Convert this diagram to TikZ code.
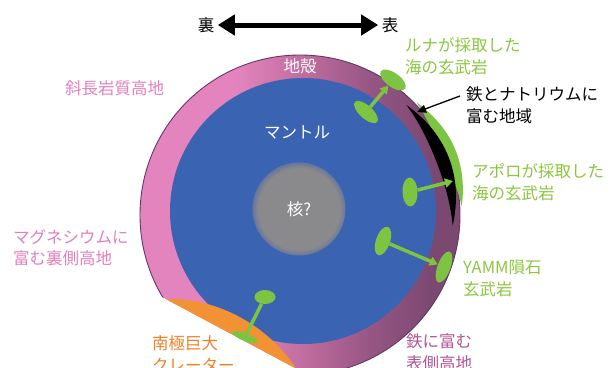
\documentclass[tikz,border=0pt]{standalone}
\usepackage{fontspec}
\setmainfont{Noto Sans CJK JP}
\usetikzlibrary{arrows.meta,shapes.geometric}

\definecolor{mantleblue}{RGB}{58,100,178}
\definecolor{coregray}{RGB}{138,138,140}
\definecolor{coreedge}{RGB}{104,118,158}
\definecolor{crustpink}{RGB}{228,132,190}
\definecolor{crustmauve}{RGB}{194,110,160}
\definecolor{crustplum}{RGB}{150,86,132}
\definecolor{crustpurple}{RGB}{122,72,112}
\definecolor{crustline}{RGB}{100,55,100}
\definecolor{basaltgreen}{RGB}{125,196,66}
\definecolor{textgreen}{RGB}{140,198,63}
\definecolor{textpink}{RGB}{226,128,186}
\definecolor{textpurple}{RGB}{176,86,146}
\definecolor{craterorange}{RGB}{243,146,50}
\definecolor{textorange}{RGB}{240,128,40}

% crust: pink on the far side, purple on the near side
\pgfdeclarehorizontalshading{crustshade}{100bp}{color(0bp)=(crustpink); color(40bp)=(crustpink); color(50bp)=(crustmauve); color(61bp)=(crustplum); color(71bp)=(crustpurple); color(100bp)=(crustpurple)}
% core with a soft rim
\pgfdeclareradialshading{coreshade}{\pgfpoint{0bp}{0bp}}{color(0bp)=(coregray); color(22bp)=(coregray); color(25bp)=(coreedge); color(50bp)=(coreedge)}

\begin{document}
\begin{tikzpicture}[x=1pt,y=-1pt,
  lbl/.style={font=\fontsize{16.5}{21.5}\selectfont, inner sep=0pt, align=left, anchor=west},
  inlbl/.style={font=\fontsize{16.5}{20}\selectfont, text=white, inner sep=0pt},
  blob/.style={ellipse, fill=basaltgreen, inner sep=0pt},
  garrow/.style={basaltgreen, line width=3.5pt, -{Triangle[length=8pt,width=9pt]}},
  sidearrow/.style={line width=5pt, {Triangle[length=17pt,width=20pt]}-{Triangle[length=17pt,width=20pt]}},
  pointer/.style={line width=1.3pt, -{Triangle[length=9pt,width=8pt]}}
]
\useasboundingbox (0,0) rectangle (612,367);
\clip (0,0) rectangle (612,367);

% far side / near side arrow
\node[font=\fontsize{16.5}{20}\selectfont] (ura) at (206,25) {裏};
\node[font=\fontsize{16.5}{20}\selectfont] (omote) at (390,25) {表};
\draw[sidearrow] (ura) -- (omote);

% crust, mantle and the south pole basin, cut off along the basin floor
\begin{scope}
  \clip (100,263.9) -- (360,402.7) -- (612,402.7) -- (612,0) -- (100,0) -- cycle;
  \shade[shading=crustshade] (300,215) circle[radius=160];
  \fill[mantleblue] (303,211) circle[radius=133];
  \begin{scope}
    \clip (300,215) circle[radius=160];
    \fill[craterorange] (166,299.5) .. controls (200,296) and (265,315) .. (300,375)
      -- (300,420) -- (140,300) -- cycle;
  \end{scope}
  \draw[crustline, line width=0.9pt] (300,215) circle[radius=160];
\end{scope}

% core
\node[circle, minimum size=93pt, inner sep=0pt, shade, shading=coreshade,
      font=\fontsize{16.5}{20}\selectfont, text=white] (core) at (299,209) {核?};

\node[inlbl] (crustlbl) at (300,66) {地殻};
\node[inlbl] (mantlelbl) at (297,132) {マントル};

% iron and sodium rich strip with its basalt rim
\begin{scope}[shift={(300,215)}]
  \fill[basaltgreen] plot[domain=-44:-3, samples=40] (\x:{162+6.5*sin(180*(\x+44)/41)})
    -- plot[domain=-3:-44, samples=40] (\x:{162-6.5*sin(180*(\x+44)/41)}) -- cycle;
  \fill[black] plot[domain=-46:4, samples=50] (\x:{153+6.5*sin(180*(\x+46)/50)})
    -- plot[domain=4:-46, samples=50] (\x:{153-6.5*sin(180*(\x+46)/50)}) -- cycle;
\end{scope}

% basalt sources and their surface sites
\node[blob, minimum width=30pt, minimum height=13pt, rotate=-42] (lunaIn) at (366,112) {};
\node[blob, minimum width=30pt, minimum height=14pt, rotate=-36] (lunaOut) at (393,80) {};
\draw[garrow] (lunaIn) -- (lunaOut);

\node[blob, minimum width=29pt, minimum height=15pt, rotate=92] (apolloIn) at (410,192) {};
\coordinate (apolloSite) at (453,181);
\draw[garrow] (apolloIn) -- (apolloSite);

\node[blob, minimum width=30pt, minimum height=14pt, rotate=71] (yammIn) at (383,241) {};
\node[blob, minimum width=33pt, minimum height=13pt, rotate=70] (yammOut) at (444,267) {};
\draw[garrow] (yammIn) -- (yammOut);

\node[blob, minimum width=21pt, minimum height=14pt] (southIn) at (265,297) {};
\node[blob, minimum width=27pt, minimum height=8pt, rotate=-22] (southOut) at (245,337) {};
\draw[basaltgreen, line width=3.5pt] (southIn) -- (southOut);

% labels
\node[lbl, text=textpink] (anorth) at (65,88) {斜長岩質高地};
\node[lbl, text=textpink] (magnes) at (13,247.5) {マグネシウムに\\富む裏側高地};
\node[lbl, text=textgreen] (lunalbl) at (405,56) {ルナが採取した\\海の玄武岩};
\node[lbl, text=black] (ironlbl) at (466,105) {鉄とナトリウムに\\富む地域};
\node[lbl, text=textgreen] (apollolbl) at (472,182) {アポロが採取した\\海の玄武岩};
\node[lbl, text=textgreen] (yammlbl) at (463,278.5) {YAMM隕石\\玄武岩};
\node[lbl, text=textpurple] (nearlbl) at (406,352) {鉄に富む\\表側高地};
\node[lbl, text=textorange] (craterlbl) at (152,354) {南極巨大\\クレーター};

\coordinate (ironSite) at (417,112);
\draw[pointer] ([xshift=-6pt,yshift=9pt]ironlbl.west) -- (ironSite);
\end{tikzpicture}
\end{document}
